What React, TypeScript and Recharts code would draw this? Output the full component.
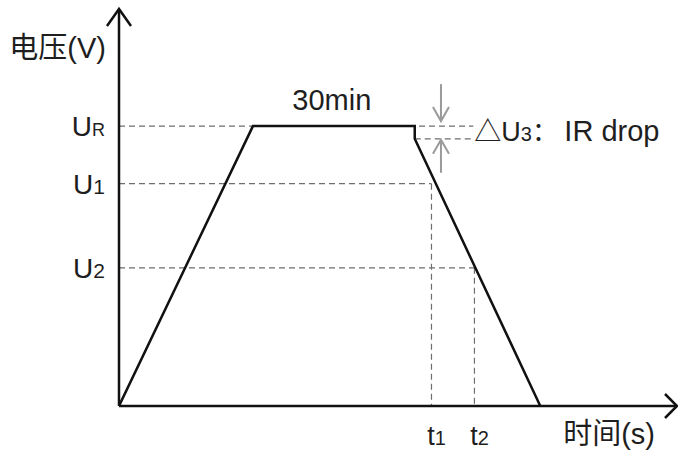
import React from 'react';
import { LineChart, Line, XAxis, YAxis, ReferenceLine, ReferenceDot, Label } from 'recharts';

// ---- data (arbitrary units: time 0..100, voltage 0..100) ----
const X_MAX = 100;
const Y_MAX = 100;
const timePoints = [0, 24, 53, 53, 75.5];
const voltagePoints = [0, 70.5, 70.5, 67.3, 0];

const UR = 70.5;
const U_DROP = 67.3;
const U1 = 56;
const U2 = 34.8;
const T1 = 56;
const T2 = 63.7;
const PLATEAU_START = 24;
const PLATEAU_END = 53;
const DASH_END = 63.5;
const ARROW_X = 57.7;

const yTickValues = [U2, U1, UR];
const yTickMain = ['U', 'U', 'U'];
const yTickSub = ['2', '1', 'R'];
const xTickValues = [T1, T2];
const xTickMain = ['t', 't'];
const xTickSub = ['1', '2'];

const yAxisTitle = '电压(V)';
const xAxisTitle = '时间(s)';
const plateauLabel = '30min';
const dropLabelMain = '△U';
const dropLabelSub = '3';
const dropLabelColon = '：';
const dropLabelRest = 'IR drop';

const data = timePoints.map((t, i) => ({ t, v: voltagePoints[i] }));

const FONT = '"Liberation Sans", Arial, "Noto Sans CJK SC", sans-serif';
const TEXT = '#1e1e1e';
const DASH = '#6e6e6e';
const GRAY = '#9a9a9a';

const YTick = (props: any) => {
  const { x, y, payload } = props;
  const i = yTickValues.indexOf(payload.value);
  if (i < 0) return null;
  const sub = yTickSub[i];
  return (
    <text x={x} y={y + 10} textAnchor="end" fill={TEXT} fontFamily={FONT}>
      <tspan fontSize={28}>{yTickMain[i]}</tspan>
      <tspan fontSize={sub === 'R' ? 18 : 21}>{sub}</tspan>
    </text>
  );
};

const XTick = (props: any) => {
  const { x, y, payload } = props;
  const i = xTickValues.indexOf(payload.value);
  if (i < 0) return null;
  return (
    <text x={x + 5} y={y + 37} textAnchor="middle" fill={TEXT} fontFamily={FONT}>
      <tspan fontSize={27}>{xTickMain[i]}</tspan>
      <tspan fontSize={20}>{xTickSub[i]}</tspan>
    </text>
  );
};

const dashProps = { stroke: DASH, strokeWidth: 1.2, strokeDasharray: '6 4', ifOverflow: 'visible' as const };

export default function App() {
  return (
    <div style={{ position: 'absolute', left: 0, top: 0, background: '#fff' }}>
      <LineChart width={678} height={455} data={data} margin={{ top: 9, right: 1, bottom: 9, left: 59 }}>
        <XAxis
          type="number"
          dataKey="t"
          domain={[0, X_MAX]}
          ticks={xTickValues}
          tick={<XTick />}
          tickLine={false}
          tickSize={0}
          height={40}
          axisLine={{ stroke: '#111', strokeWidth: 2.5 }}
          allowDataOverflow
        >
          <Label
            content={(p: any) => {
              const vb = p.viewBox || {};
              return (
                <text x={vb.x + vb.width - 22} y={vb.y + 38} textAnchor="end" fontSize={29} fill={TEXT} fontFamily={FONT}>
                  {xAxisTitle}
                </text>
              );
            }}
          />
        </XAxis>
        <YAxis
          type="number"
          domain={[0, Y_MAX]}
          ticks={yTickValues}
          tick={<YTick />}
          tickLine={false}
          tickSize={0}
          tickMargin={14}
          width={60}
          axisLine={{ stroke: '#111', strokeWidth: 2.5 }}
          allowDataOverflow
        >
          <Label
            content={(p: any) => {
              const vb = p.viewBox || {};
              return (
                <text x={vb.x + vb.width - 13} y={vb.y + 49} textAnchor="end" fontSize={29} fill={TEXT} fontFamily={FONT}>
                  {yAxisTitle}
                </text>
              );
            }}
          />
        </YAxis>

        <ReferenceLine segment={[{ x: 0, y: UR }, { x: DASH_END, y: UR }]} {...dashProps} />
        <ReferenceLine segment={[{ x: PLATEAU_END, y: U_DROP }, { x: DASH_END, y: U_DROP }]} {...dashProps} />
        <ReferenceLine segment={[{ x: 0, y: U1 }, { x: T1, y: U1 }]} {...dashProps} />
        <ReferenceLine segment={[{ x: T1, y: U1 }, { x: T1, y: 0 }]} {...dashProps} />
        <ReferenceLine segment={[{ x: 0, y: U2 }, { x: T2, y: U2 }]} {...dashProps} />
        <ReferenceLine segment={[{ x: T2, y: U2 }, { x: T2, y: 0 }]} {...dashProps} />

        <Line type="linear" dataKey="v" stroke="#111" strokeWidth={2.5} dot={false} isAnimationActive={false} />

        {/* axis arrowheads */}
        <ReferenceDot
          x={X_MAX}
          y={0}
          ifOverflow="visible"
          shape={(p: any) => (
            <path d={`M${p.cx - 12},${p.cy - 12} L${p.cx},${p.cy} L${p.cx - 12},${p.cy + 12}`} fill="none" stroke="#111" strokeWidth={2.5} />
          )}
        />
        <ReferenceDot
          x={0}
          y={Y_MAX}
          ifOverflow="visible"
          shape={(p: any) => (
            <path d={`M${p.cx - 12},${p.cy + 17} L${p.cx},${p.cy} L${p.cx + 12},${p.cy + 17}`} fill="none" stroke="#111" strokeWidth={2.5} />
          )}
        />

        {/* IR drop arrows */}
        <ReferenceDot
          x={ARROW_X}
          y={UR}
          ifOverflow="visible"
          shape={(p: any) => (
            <g fill="none" stroke={GRAY} strokeWidth={2}>
              <path d={`M${p.cx},${p.cy - 42} L${p.cx},${p.cy - 5}`} />
              <path d={`M${p.cx - 8},${p.cy - 19} L${p.cx},${p.cy - 5} L${p.cx + 8},${p.cy - 19}`} />
            </g>
          )}
        />
        <ReferenceDot
          x={ARROW_X}
          y={U_DROP}
          ifOverflow="visible"
          shape={(p: any) => (
            <g fill="none" stroke={GRAY} strokeWidth={2}>
              <path d={`M${p.cx},${p.cy + 34} L${p.cx},${p.cy + 1}`} />
              <path d={`M${p.cx - 8},${p.cy + 15} L${p.cx},${p.cy + 1} L${p.cx + 8},${p.cy + 15}`} />
            </g>
          )}
        />

        {/* annotations */}
        <ReferenceDot
          x={(PLATEAU_START + PLATEAU_END) / 2}
          y={UR}
          ifOverflow="visible"
          shape={(p: any) => (
            <text x={p.cx - 2} y={p.cy - 16} textAnchor="middle" fontSize={29} fill={TEXT} fontFamily={FONT}>
              {plateauLabel}
            </text>
          )}
        />
        <ReferenceDot
          x={DASH_END}
          y={(UR + U_DROP) / 2}
          ifOverflow="visible"
          shape={(p: any) => (
            <text x={p.cx + 1} y={p.cy + 9} textAnchor="start" fill={TEXT} fontFamily={FONT}>
              <tspan fontSize={27}>{dropLabelMain}</tspan>
              <tspan fontSize={20}>{dropLabelSub}</tspan>
              <tspan fontSize={26}>{dropLabelColon}</tspan>
              <tspan x={p.cx + 91} fontSize={29}>{dropLabelRest}</tspan>
            </text>
          )}
        />
      </LineChart>
    </div>
  );
}
